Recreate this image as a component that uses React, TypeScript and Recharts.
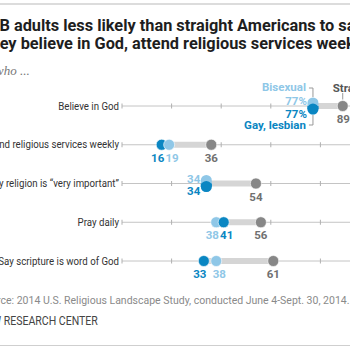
import React from 'react';
import { ScatterChart, Scatter, XAxis, YAxis } from 'recharts';

// values (% of adults)
const categories = [
  'Believe in God',
  'Attend religious services weekly',
  'Say religion is \u201cvery important\u201d',
  'Pray daily',
  'Say scripture is word of God',
];
const gayLesbian = [77, 16, 34, 41, 33];
const bisexual = [77, 19, 34, 38, 38];
const straight = [89, 36, 54, 56, 61];
const xTicks = [0, 20, 40, 60, 80, 100];

const DARK = '#0a86c2';
const LIGHT = '#8fc7e7';
const GRAY = '#878787';
const GRAY_TEXT = '#707070';
const FONT = 'Roboto, "Noto Sans", sans-serif';
const SQUEEZE = 0.88; // the original face is narrower than Roboto

// baseline + tick marks for every row
const rowTicks = categories.map((_, i) => xTicks.map((t) => ({ x: t, y: i })));

// gray range bar from lowest to highest value
const ranges = categories.map((_, i) => {
  const vals = [gayLesbian[i], bisexual[i], straight[i]];
  return [
    { x: Math.min(...vals), y: i },
    { x: Math.max(...vals), y: i },
  ];
});

const straightPoints = straight.map((v, i) => ({ x: v, y: i, row: i, value: v }));

// blue dots: equal values become one split "pill", otherwise rightmost drawn last
const bluePoints = categories.flatMap((_, i) => {
  const g = gayLesbian[i];
  const b = bisexual[i];
  if (g === b) return [{ x: g, y: i, row: i, kind: 'pill', value: g }];
  const pts = [
    { x: g, y: i, row: i, kind: 'gay', value: g, side: g < b ? -1 : 1 },
    { x: b, y: i, row: i, kind: 'bi', value: b, side: b < g ? -1 : 1 },
  ];
  return pts.sort((a, c) => a.x - c.x);
});

const Cond = ({ x, y, anchor = 'start', size = 11, weight = 400, fill = '#333', italic = false, family = FONT, scale = SQUEEZE, children }: any) => (
  <text
    transform={`translate(${x} ${y}) scale(${scale} 1)`}
    textAnchor={anchor}
    fontSize={size}
    fontWeight={weight}
    fontStyle={italic ? 'italic' : 'normal'}
    fontFamily={family}
    fill={fill}
  >
    {children}
  </text>
);

const CategoryTick = (props: any) => {
  const { x, y, payload } = props;
  return (
    <Cond x={x} y={y + 3.5} anchor="end" size={11} fill="#333">
      {categories[payload.value]}
    </Cond>
  );
};

const TickMark = (props: any) => {
  const { cx, cy } = props;
  return <line x1={cx} x2={cx} y1={cy - 2.5} y2={cy + 2.5} stroke="#b0b0b0" strokeWidth={1} />;
};

const Nothing = () => <g />;

const valueStyle = { fontFamily: FONT, fontSize: 11.5, fontWeight: 700 };

const StraightDot = (props: any) => {
  const { cx, cy, payload } = props;
  const first = payload.row === 0;
  return (
    <g>
      <circle cx={cx} cy={cy} r={5.5} fill={GRAY} stroke="#fff" strokeWidth={0.6} />
      {first ? (
        <>
          <text x={cx - 6} y={cy + 17} textAnchor="start" fill={GRAY_TEXT} {...valueStyle}>
            {payload.value}%
          </text>
          <text x={cx - 10} y={cy - 14} textAnchor="start" fill="#555" {...valueStyle}>
            Straight
          </text>
          <line x1={cx} x2={cx} y1={cy - 13} y2={cy - 6.5} stroke="#999" strokeWidth={1} />
        </>
      ) : (
        <text x={cx} y={cy + 17} textAnchor="middle" fill={GRAY_TEXT} {...valueStyle}>
          {payload.value}
        </text>
      )}
    </g>
  );
};

const BlueDot = (props: any) => {
  const { cx, cy, payload } = props;
  const pct = payload.row === 0 ? '%' : '';
  if (payload.kind === 'pill') {
    return (
      <g>
        <rect x={cx - 5.5} y={cy - 8.5} width={11} height={17} rx={5.5} fill={LIGHT} />
        <circle cx={cx} cy={cy + 3} r={5.5} fill={DARK} />
        <rect x={cx - 5.5} y={cy} width={11} height={3} fill={DARK} />
        <text x={cx - 6} y={cy - 1} textAnchor="end" fill={LIGHT} {...valueStyle}>
          {payload.value}
          {pct}
        </text>
        <text x={cx - 6} y={cy + 11.5} textAnchor="end" fill={DARK} {...valueStyle}>
          {payload.value}
          {pct}
        </text>
        {payload.row === 0 && (
          <g>
            <text x={cx - 7} y={cy - 15} textAnchor="end" fill={LIGHT} {...valueStyle}>
              Bisexual
            </text>
            <polyline points={`${cx - 4},${cy - 18} ${cx},${cy - 18} ${cx},${cy - 9}`} fill="none" stroke="#999" strokeWidth={1} />
            <text x={cx - 7} y={cy + 23} textAnchor="end" fill={DARK} {...valueStyle}>
              Gay, lesbian
            </text>
            <polyline points={`${cx},${cy + 9} ${cx},${cy + 19} ${cx - 4},${cy + 19}`} fill="none" stroke="#999" strokeWidth={1} />
          </g>
        )}
      </g>
    );
  }
  const color = payload.kind === 'gay' ? DARK : LIGHT;
  const dx = payload.side < 0 ? -4 : 3;
  return (
    <g>
      <circle cx={cx} cy={cy} r={5.5} fill={color} stroke="#fff" strokeWidth={0.6} />
      <text x={cx + dx} y={cy + 17} textAnchor="middle" fill={color} {...valueStyle}>
        {payload.value}
        {pct}
      </text>
    </g>
  );
};

export default function App() {
  return (
    <div style={{ position: 'fixed', left: 0, top: 0, width: 350, height: 350, overflow: 'hidden', background: '#fff' }}>
      <svg width={350} height={350} style={{ position: 'absolute', left: 0, top: 0 }}>
        <line x1={0} x2={350} y1={4} y2={4} stroke="#dcdcdc" strokeWidth={2} />
        <Cond x={-20} y={30.5} size={16} weight={700} fill="#1e1e1e" scale={1.02}>
          LGB adults less likely than straight Americans to say
        </Cond>
        <Cond x={-15} y={48.5} size={16} weight={700} fill="#1e1e1e" scale={1.02}>
          they believe in God, attend religious services weekly
        </Cond>
        <Cond x={-19} y={75} size={13} italic family='"Liberation Serif", "DejaVu Serif", serif' fill="#777" scale={1}>
          % who ...
        </Cond>
        <Cond x={-21} y={304} size={10.5} fill="#8a8a8a" scale={1.0}>
          Source: 2014 U.S. Religious Landscape Study, conducted June 4-Sept. 30, 2014.
        </Cond>
        <Cond x={-21} y={324.5} size={12} fill="#444">
          PEW RESEARCH CENTER
        </Cond>
        <line x1={0} x2={350} y1={345.5} y2={345.5} stroke="#cfcfcf" strokeWidth={1} />
      </svg>
      <div style={{ position: 'absolute', left: 0, top: 0 }}>
        <ScatterChart width={400} height={350} margin={{ top: 106, right: 30, bottom: 89, left: 0 }}>
          <XAxis type="number" dataKey="x" domain={[0, 100]} hide />
          <YAxis
            type="number"
            dataKey="y"
            domain={[0, 4]}
            reversed
            width={122}
            ticks={[0, 1, 2, 3, 4]}
            interval={0}
            axisLine={false}
            tickLine={false}
            tickSize={0}
            tickMargin={3}
            tick={<CategoryTick />}
          />
          {rowTicks.map((pts, i) => (
            <Scatter
              key={`base-${i}`}
              data={pts}
              line={{ stroke: '#c4c4c4', strokeWidth: 1 }}
              shape={<TickMark />}
              isAnimationActive={false}
            />
          ))}
          {ranges.map((pts, i) => (
            <Scatter
              key={`range-${i}`}
              data={pts}
              line={{ stroke: '#d5d5d5', strokeWidth: 6 }}
              shape={<Nothing />}
              isAnimationActive={false}
            />
          ))}
          <Scatter data={straightPoints} shape={<StraightDot />} isAnimationActive={false} />
          <Scatter data={bluePoints} shape={<BlueDot />} isAnimationActive={false} />
        </ScatterChart>
      </div>
    </div>
  );
}
